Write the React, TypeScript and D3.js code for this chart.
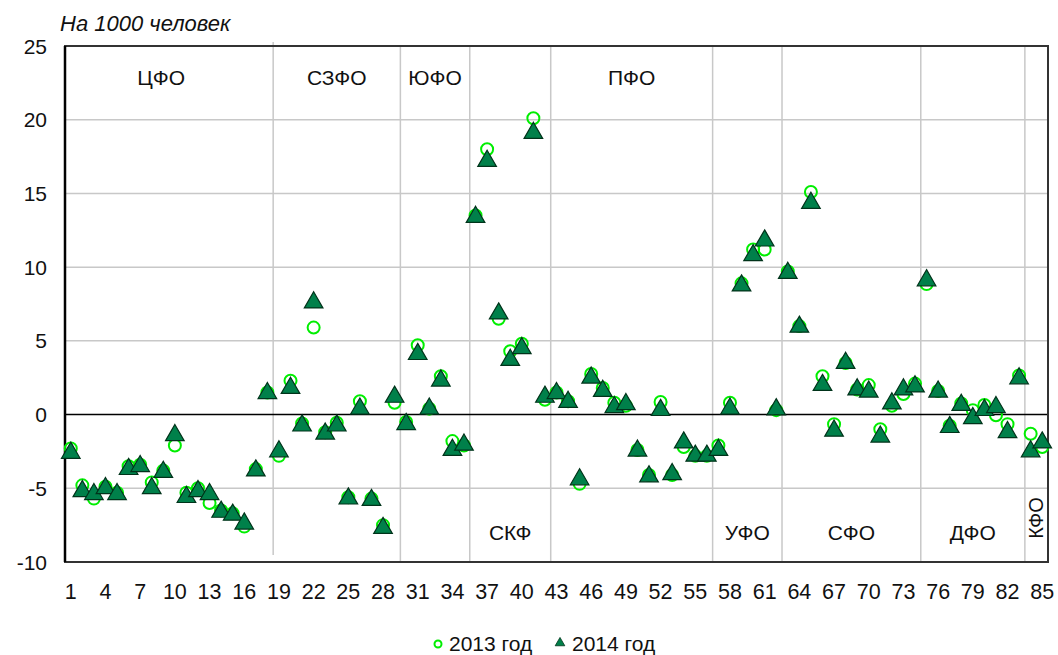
import React, { useRef, useEffect } from "react";
import * as d3 from "d3";

// regions 1..85
const regions = d3.range(1, 86);

const values2013 = [
  -2.3, -4.8, -5.7, -4.9, -5.3, -3.5, -3.4, -4.6, -3.8, -2.1,
  -5.3, -5.0, -6.0, -6.5, -6.7, -7.6, -3.7, 1.5, -2.8, 2.3,
  -0.6, 5.9, -1.2, -0.55, -5.6, 0.9, -5.7, -7.5, 0.8, -0.5,
  4.7, 0.4, 2.6, -1.8, -2.1, 13.5, 18.0, 6.5, 4.3, 4.8,
  20.1, 1.0, 1.5, 0.9, -4.7, 2.75, 1.8, 0.8, 0.6, -2.4,
  -4.1, 0.85, -4.1, -2.2, -2.8, -2.8, -2.1, 0.8, 8.9, 11.2,
  11.2, 0.3, 9.7, 6.0, 15.1, 2.6, -0.65, 3.5, 1.7, 2.0,
  -1.0, 0.6, 1.4, 2.1, 8.85, 1.6, -0.75, 0.75, 0.3, 0.65,
  -0.05, -0.65, 2.65, -1.3, -2.2,
];

const values2014 = [
  -2.6, -5.2, -5.4, -5.0, -5.4, -3.7, -3.5, -5.0, -3.9, -1.4,
  -5.6, -5.2, -5.4, -6.6, -6.8, -7.4, -3.8, 1.45, -2.5, 1.8,
  -0.75, 7.6, -1.3, -0.75, -5.7, 0.4, -5.8, -7.7, 1.2, -0.65,
  4.1, 0.4, 2.3, -2.4, -2.05, 13.4, 17.2, 6.85, 3.7, 4.5,
  19.1, 1.2, 1.45, 0.85, -4.4, 2.5, 1.6, 0.5, 0.7, -2.45,
  -4.2, 0.3, -4.05, -1.9, -2.8, -2.8, -2.4, 0.4, 8.75, 10.8,
  11.8, 0.35, 9.6, 5.95, 14.35, 2.0, -1.1, 3.5, 1.7, 1.55,
  -1.5, 0.75, 1.7, 1.9, 9.1, 1.55, -0.85, 0.65, -0.25, 0.3,
  0.5, -1.2, 2.45, -2.5, -1.9,
];

// federal districts: name, first and last region number, where the label goes
const districtNames = ["ЦФО", "СЗФО", "ЮФО", "СКФ", "ПФО", "УФО", "СФО", "ДФО", "КФО"];
const districtFirst = [1, 19, 30, 36, 43, 57, 63, 75, 84];
const districtLast = [18, 29, 35, 42, 56, 62, 74, 83, 85];
const districtLabelAt = ["top", "top", "top", "bottom", "top", "bottom", "bottom", "bottom", "vertical"];

const yTicks = [-10, -5, 0, 5, 10, 15, 20, 25];
const xTickLabels = d3.range(1, 86, 3);

const seriesNames = ["2013 год", "2014 год"];

const FONT = "'Liberation Sans', Arial, sans-serif";
const CIRCLE_COLOR = "#00ee00";
const TRI_FILL = "#00804a";
const TRI_STROKE = "#00331a";

export default function App() {
  const svgRef = useRef(null);

  const W = 1058, H = 655;
  const margin = { top: 46, right: 10, bottom: 93, left: 65 };
  const width = W - margin.left - margin.right,
    height = H - margin.top - margin.bottom;

  function renderChart() {
    d3.select(svgRef.current).selectAll("*").remove();

    const svg = d3.select(svgRef.current)
      .attr("width", W)
      .attr("height", H)
      .style("font-family", FONT);

    const g = svg.append("g")
      .attr("transform", "translate(" + margin.left + "," + margin.top + ")");

    var x = d3.scaleLinear().domain([0.5, 85.5]).range([0, width]);
    var y = d3.scaleLinear().domain([-10, 25]).range([height, 0]);

    // horizontal grid
    g.append("g")
      .selectAll("line")
      .data(yTicks.filter((t) => t !== 0 && t !== 25 && t !== -10))
      .join("line")
      .attr("x1", 0).attr("x2", width)
      .attr("y1", (d) => y(d)).attr("y2", (d) => y(d))
      .attr("stroke", "#c8c8c8").attr("stroke-width", 1.5);

    // district separators
    g.append("g")
      .selectAll("line")
      .data(districtLast.slice(0, -1))
      .join("line")
      .attr("x1", (d) => x(d + 0.5)).attr("x2", (d) => x(d + 0.5))
      .attr("y1", (d, i) => (i === 0 ? -4 : 0))
      .attr("y2", (d, i) => (i === 0 ? height - 7 : height))
      .attr("stroke", "#c8c8c8").attr("stroke-width", 1.5);

    // zero line
    g.append("line")
      .attr("x1", 0).attr("x2", width)
      .attr("y1", y(0)).attr("y2", y(0))
      .attr("stroke", "#000").attr("stroke-width", 1.5);

    // frame
    g.append("rect")
      .attr("x", 0).attr("y", 0)
      .attr("width", width).attr("height", height)
      .attr("fill", "none")
      .attr("stroke", "#333").attr("stroke-width", 2);
    g.append("line")
      .attr("x1", 0).attr("x2", 0).attr("y1", 0).attr("y2", height)
      .attr("stroke", "#000").attr("stroke-width", 2.5);

    // y tick labels
    g.append("g")
      .selectAll("text")
      .data(yTicks)
      .join("text")
      .attr("x", -18)
      .attr("y", (d) => y(d))
      .attr("dy", "0.36em")
      .attr("text-anchor", "end")
      .attr("font-size", 21)
      .attr("fill", "#111")
      .text((d) => d);

    // x tick labels
    g.append("g")
      .selectAll("text")
      .data(xTickLabels)
      .join("text")
      .attr("x", (d) => x(d))
      .attr("y", height + 37)
      .attr("text-anchor", "middle")
      .attr("font-size", 21.5)
      .attr("fill", "#111")
      .text((d) => d);

    // district labels
    districtNames.forEach((name, i) => {
      const cx = x((districtFirst[i] + districtLast[i]) / 2);
      const at = districtLabelAt[i];
      if (at === "vertical") {
        g.append("text")
          .attr("transform", "translate(" + (cx - 1) + "," + (height - 44) + ") rotate(-90)")
          .attr("text-anchor", "middle")
          .attr("dy", "0.36em")
          .attr("font-size", 20)
          .attr("fill", "#111")
          .text(name);
      } else {
        g.append("text")
          .attr("x", i === 0 ? cx - 8 : cx)
          .attr("y", at === "top" ? 39 : height - 22)
          .attr("text-anchor", "middle")
          .attr("font-size", 21)
          .attr("fill", "#111")
          .text(name);
      }
    });

    // title
    svg.append("text")
      .attr("x", 60).attr("y", 31)
      .attr("font-size", 22)
      .attr("font-style", "italic")
      .attr("fill", "#111")
      .text("На 1000 человек");

    const triPath = d3.symbol().type(d3.symbolTriangle).size(150);

    // 2013 circles
    g.append("g")
      .selectAll("circle")
      .data(regions)
      .join("circle")
      .attr("cx", (d) => x(d))
      .attr("cy", (d) => y(values2013[d - 1]))
      .attr("r", 6)
      .attr("fill", "none")
      .attr("stroke", CIRCLE_COLOR)
      .attr("stroke-width", 2);

    // 2014 triangles
    g.append("g")
      .selectAll("path")
      .data(regions)
      .join("path")
      .attr("transform", (d) => "translate(" + x(d) + "," + y(values2014[d - 1]) + ")")
      .attr("d", triPath)
      .attr("fill", TRI_FILL)
      .attr("stroke", TRI_STROKE)
      .attr("stroke-width", 1.2);

    // legend
    const lg = svg.append("g").attr("transform", "translate(438,645)");
    lg.append("circle")
      .attr("cx", 0).attr("cy", -1).attr("r", 3.5)
      .attr("fill", "none").attr("stroke", CIRCLE_COLOR).attr("stroke-width", 2);
    lg.append("text")
      .attr("x", 11).attr("y", 6)
      .attr("font-size", 21).attr("fill", "#111")
      .text(seriesNames[0]);
    lg.append("path")
      .attr("transform", "translate(122,-2)")
      .attr("d", d3.symbol().type(d3.symbolTriangle).size(40))
      .attr("fill", TRI_FILL).attr("stroke", TRI_STROKE).attr("stroke-width", 0.8);
    lg.append("text")
      .attr("x", 134).attr("y", 6)
      .attr("font-size", 21).attr("fill", "#111")
      .text(seriesNames[1]);
  }

  useEffect(() => {
    document.body.style.margin = "0";
    renderChart();
  }, []);

  return (
    <div>
      <svg ref={svgRef} style={{ display: "block" }} />
    </div>
  );
}
